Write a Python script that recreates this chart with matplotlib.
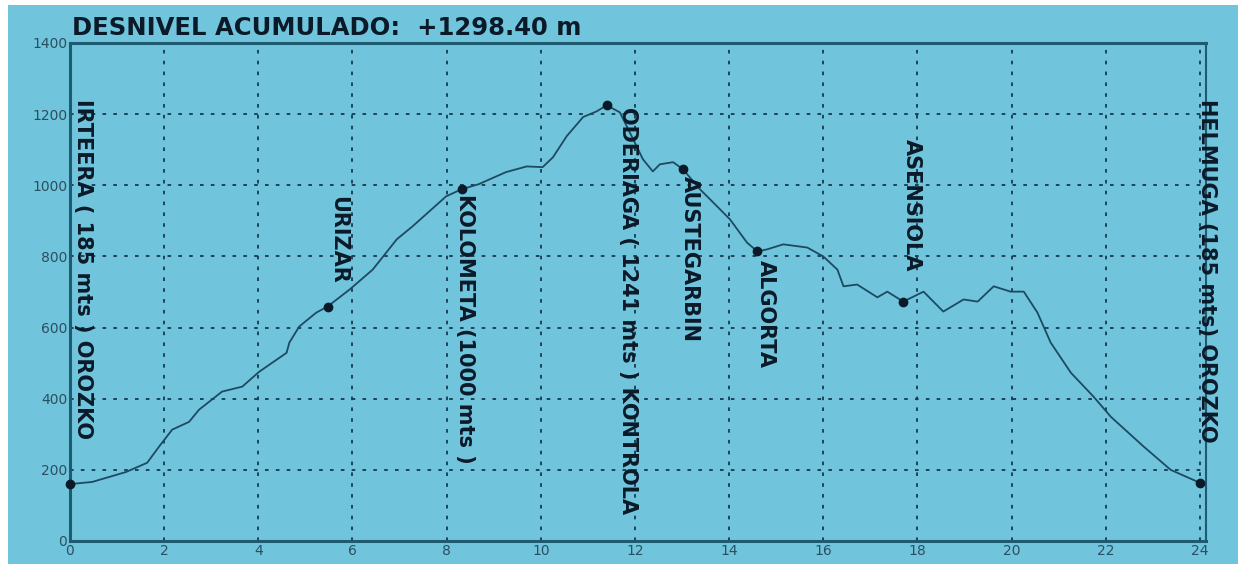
import matplotlib
matplotlib.use("Agg")
import matplotlib.pyplot as plt
from matplotlib.patches import Rectangle

# ---- data ----
dist_km = [0, 0.47, 1.19, 1.64, 1.89, 2.17, 2.53, 2.74, 3.23, 3.66, 4.02, 4.6, 4.66, 4.87,
           5.23, 5.47, 5.94, 6.43, 6.94, 7.28, 7.99, 8.32, 8.68, 9.26, 9.7, 10.04, 10.26,
           10.55, 10.9, 11.19, 11.4, 11.68, 11.96, 12.17, 12.38, 12.53, 12.81, 13.02, 13.38,
           13.66, 14.02, 14.38, 14.6, 14.81, 15.15, 15.66, 16.0, 16.3, 16.43, 16.72, 17.15,
           17.36, 17.7, 18.13, 18.55, 18.98, 19.28, 19.62, 19.98, 20.26, 20.55, 20.83, 21.26,
           21.74, 22.11, 22.81, 23.38, 23.96, 24.0]
elev_m = [160, 166, 194, 220, 265, 313, 335, 369, 420, 434, 476, 529, 558, 603,
          642, 659, 707, 763, 848, 885, 969, 989, 1003, 1037, 1053, 1051, 1079,
          1138, 1192, 1208, 1225, 1205, 1130, 1073, 1039, 1059, 1065, 1045, 989,
          952, 904, 839, 814, 820, 834, 825, 800, 763, 716, 721, 685,
          701, 673, 701, 645, 679, 673, 716, 701, 701, 642, 558, 473,
          406, 349, 265, 200, 166, 163]

point_km = [0, 5.47, 8.32, 11.4, 13.02, 14.6, 17.7, 24.0]
point_m = [160, 659, 989, 1225, 1045, 814, 673, 163]

label_text = ["IRTEERA ( 185 mts ) OROZKO", "URIZAR", "KOLOMETA (1000 mts )",
              "ODERIAGA ( 1241 mts ) KONTROLA", "AUSTEGARBIN", "ALGORTA",
              "ASENSIOLA", "HELMUGA (185 mts) OROZKO"]
label_km = [0.28, 5.69, 8.39, 11.85, 13.17, 14.78, 17.88, 24.15]
label_top_m = [1242, 970, 975, 1220, 1025, 790, 1130, 1242]

x_ticks = list(range(0, 25, 2))
y_ticks = list(range(0, 1401, 200))
title_text = "DESNIVEL ACUMULADO:  +1298.40 m"

# ---- style ----
BG = "#70c4dc"
LINE = "#1d4a60"
DARK = "#0b1a28"

fig = plt.figure(figsize=(12.46, 5.64), dpi=100)
fig.patch.set_facecolor("white")
fig.add_artist(Rectangle((8 / 1246, 0), 1230 / 1246, 559 / 564, transform=fig.transFigure,
                         facecolor=BG, edgecolor="none", zorder=0))

ax = fig.add_axes([70 / 1246, 23 / 564, 1136 / 1246, 498 / 564])
ax.set_facecolor(BG)
ax.set_xlim(0, 24.13)
ax.set_ylim(0, 1400)
ax.set_xticks(x_ticks)
ax.set_yticks(y_ticks)
ax.tick_params(length=0, labelsize=10, labelcolor="#2c4f60", pad=2)
ax.grid(True, color="#163a52", linestyle=(0, (2, 4)), linewidth=1.3)
for s in ["left", "bottom", "top"]:
    ax.spines[s].set_color("#1e5a70")
    ax.spines[s].set_linewidth(2.2)
ax.spines["right"].set_color("#1e5a70")
ax.spines["right"].set_linewidth(1.5)

ax.plot(dist_km, elev_m, color=LINE, linewidth=1.3, zorder=3)
ax.plot(point_km, point_m, "o", color=DARK, markersize=6, zorder=4, clip_on=False)

for t, xk, yt in zip(label_text, label_km, label_top_m):
    ax.text(xk, yt, t, rotation=-90, ha="center", va="top", fontsize=15,
            fontweight="bold", color=DARK, family="DejaVu Sans", clip_on=False, zorder=5)

fig.text(72 / 1246, 1 - 28 / 564, title_text, ha="left", va="center", fontsize=17.5,
         fontweight="bold", color=DARK, family="DejaVu Sans")

fig.savefig("out.png", dpi=100, facecolor=fig.get_facecolor())
